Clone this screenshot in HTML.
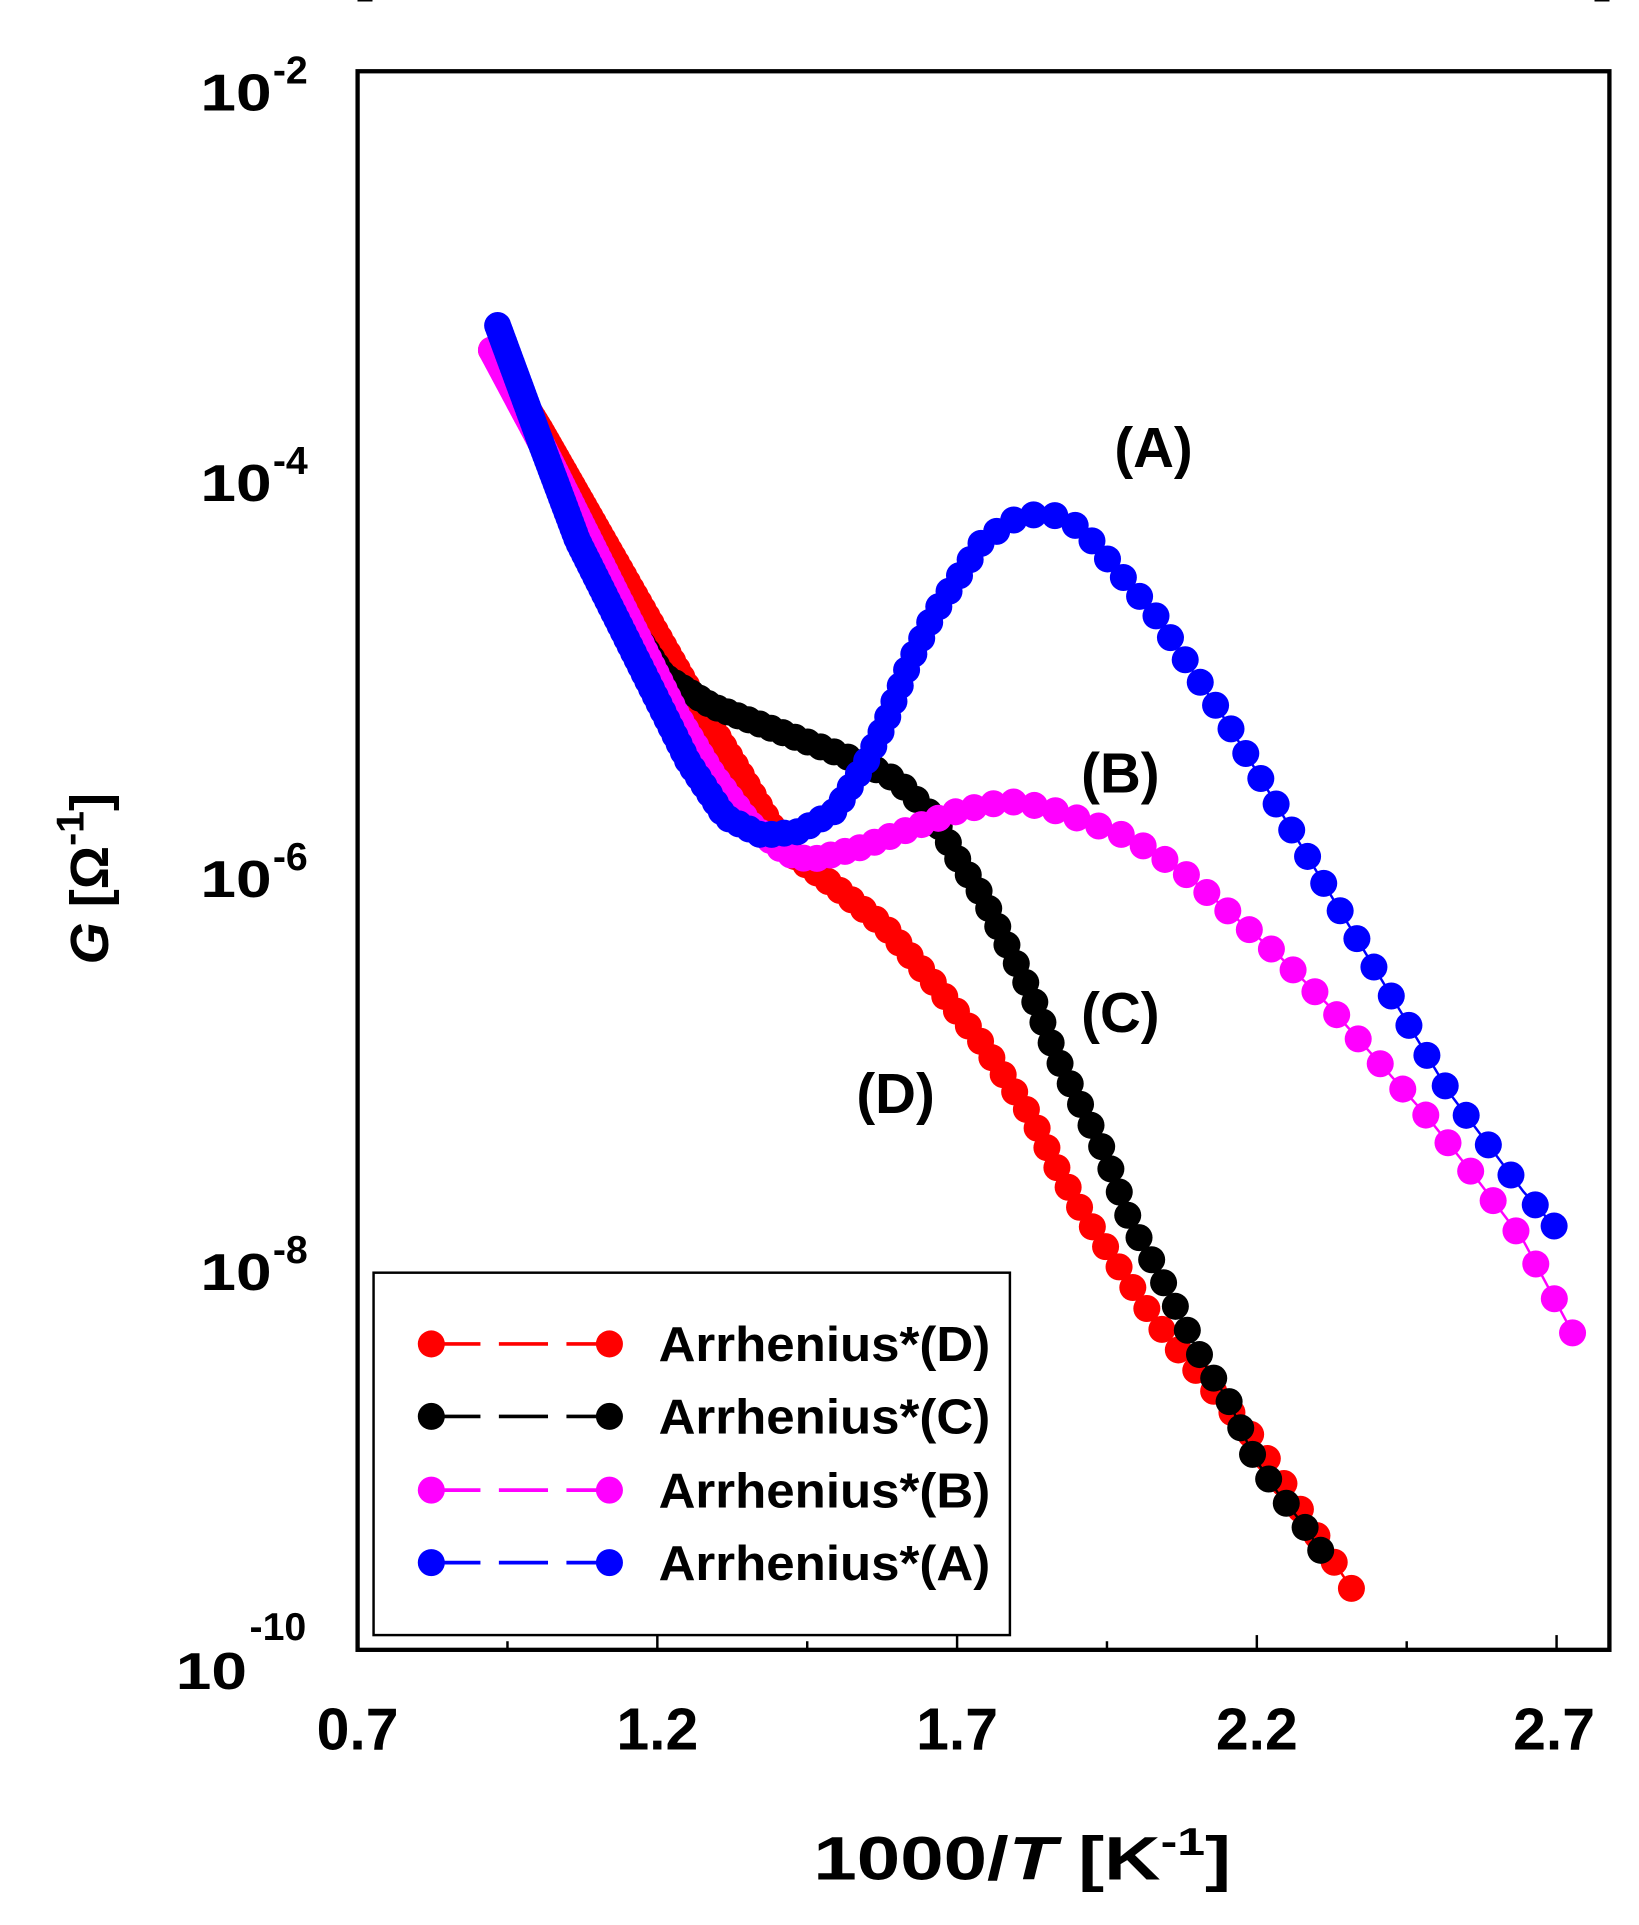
<!DOCTYPE html>
<html><head><meta charset="utf-8"><style>
html,body{margin:0;padding:0;background:#fff;}
svg{display:block;}
text{font-family:"Liberation Sans",sans-serif;font-weight:bold;fill:#000;}
</style></head><body>
<svg id="s" width="1639" height="1925" viewBox="0 0 1334 1567" xmlns="http://www.w3.org/2000/svg">
<rect x="0" y="0" width="1334" height="1567" fill="#fff"/>
<g id="ticks" stroke="#000" stroke-width="2"></g>
<g id="data"></g>
<rect x="291" y="58" width="1019" height="1285" fill="none" stroke="#000" stroke-width="3.5"/>
<rect x="304" y="1036" width="518" height="295" fill="#fff" stroke="#000" stroke-width="2"/>
<g id="leg"></g>
<g font-size="42">
<text x="163" y="90" textLength="58" lengthAdjust="spacingAndGlyphs">10</text><text x="222" y="68" font-size="32">-2</text>
<text x="163" y="408" textLength="58" lengthAdjust="spacingAndGlyphs">10</text><text x="222" y="386" font-size="32">-4</text>
<text x="163" y="730" textLength="58" lengthAdjust="spacingAndGlyphs">10</text><text x="222" y="708" font-size="32">-6</text>
<text x="163" y="1050" textLength="58" lengthAdjust="spacingAndGlyphs">10</text><text x="222" y="1028" font-size="32">-8</text>
<text x="143" y="1375" textLength="58" lengthAdjust="spacingAndGlyphs">10</text><text x="203" y="1335" font-size="32">-10</text>
</g>
<g font-size="48">
<text x="291" y="1424" text-anchor="middle">0.7</text>
<text x="535" y="1424" text-anchor="middle">1.2</text>
<text x="779" y="1424" text-anchor="middle">1.7</text>
<text x="1023" y="1424" text-anchor="middle">2.2</text>
<text x="1265" y="1424" text-anchor="middle">2.7</text>
</g>
<text x="662" y="1530" font-size="50" textLength="340" lengthAdjust="spacingAndGlyphs">1000/<tspan font-style="italic">T</tspan> [K<tspan font-size="32" dy="-20">-1</tspan><tspan dy="20">]</tspan></text>
<g transform="translate(88,785) rotate(-90)">
<text x="0" y="0" font-size="44"><tspan font-style="italic">G</tspan> [Ω<tspan font-size="32" dy="-20">-1</tspan><tspan dy="20">]</tspan></text>
</g>
<g font-size="46">
<text x="907" y="380">(A)</text>
<text x="880" y="645">(B)</text>
<text x="880" y="840">(C)</text>
<text x="697" y="906">(D)</text>
</g>
</svg>
<script>
var NS="http://www.w3.org/2000/svg";
function el(p,t,a){var e=document.createElementNS(NS,t);for(var k in a)e.setAttribute(k,a[k]);p.appendChild(e);return e;}
var tk=document.getElementById('ticks');
var top=58,bot=1343,L=291,R=1310,dec=321.25/2;
for(var d=0;d<8;d++){for(var m=1;m<10;m++){var y=top+(d+1)*dec-Math.log10(m)*dec;if(y>bot+1)continue;var len=m==1?12:7;
el(tk,'line',{x1:L,y1:y,x2:L+len,y2:y});el(tk,'line',{x1:R,y1:y,x2:R-len,y2:y});}}
for(var v=0.7;v<2.8;v+=0.25){var x=L+(v-0.7)*488;var len=Math.abs((v-0.7)/0.5-Math.round((v-0.7)/0.5))<0.01?12:7;
el(tk,'line',{x1:x,y1:bot,x2:x,y2:bot-len});el(tk,'line',{x1:x,y1:top,x2:x,y2:top+len});}
var S={
D:{c:'#ff0000',p:[[400,285],[440,350],[480,420],[520,490],[560,560],[600,625],[640,692],[680,722],[720,754],[760,800],[800,850],[840,910],[860,950],[880,985],[900,1015],[920,1045],[940,1075],[960,1100],[990,1135],[1020,1170],[1050,1215],[1075,1255],[1100,1293]]},
C:{c:'#000000',p:[[405,285],[440,360],[470,430],[500,490],[540,550],[580,575],[620,590],[660,605],[700,620],[730,635],[760,665],[780,700],[800,730],[820,770],[840,810],[860,860],[880,900],[900,940],[920,995],[940,1030],[960,1070],[980,1110],[1000,1140],[1020,1185],[1040,1215],[1060,1240],[1075,1262]]},
B:{c:'#ff00ff',p:[[400,285],[440,360],[480,440],[520,520],[550,580],[580,630],[610,670],[640,695],[660,700],[700,690],[740,675],[780,660],[820,652],[850,657],[880,667],[920,682],[960,707],[1000,742],[1040,777],[1080,817],[1120,862],[1160,907],[1200,957],[1240,1010],[1280,1085]]},
A:{c:'#0000ff',p:[[405,265],[440,360],[470,440],[500,500],[530,560],[560,620],[590,665],[620,680],[650,677],[680,660],[705,620],[720,590],[740,540],[760,500],[780,470],[800,440],[830,420],[855,418],[880,430],[910,465],[940,500],[970,545],[1000,590],[1030,640],[1060,690],[1090,740],[1120,790],[1150,840],[1180,890],[1210,930],[1240,970],[1265,998]]}};
var dg=document.getElementById('data');
['D','C','B','A'].forEach(function(k){var s=S[k],p=s.p;
el(dg,'polyline',{points:p.map(function(q){return q.join(',')}).join(' '),fill:'none',stroke:s.c,'stroke-width':2});
var acc=0,next=0;
for(var i=0;i<p.length-1;i++){var a=p[i],b=p[i+1],dx=b[0]-a[0],dy=b[1]-a[1],l=Math.hypot(dx,dy);
while(acc+l>=next){var f=(next-acc)/l;var x=a[0]+dx*f,y=a[1]+dy*f;el(dg,'circle',{cx:x,cy:y,r:11,fill:s.c});
var step=3+Math.max(0,(x-420))*0.035;next+=step;}
acc+=l;}
var e=p[p.length-1];el(dg,'circle',{cx:e[0],cy:e[1],r:11,fill:s.c});
});
var lg=document.getElementById('leg');
[['D','#ff0000',1094],['C','#000000',1153],['B','#ff00ff',1213],['A','#0000ff',1272]].forEach(function(r){
el(lg,'line',{x1:351,y1:r[2],x2:496,y2:r[2],stroke:r[1],'stroke-width':3,'stroke-dasharray':'40,15'});
el(lg,'circle',{cx:351,cy:r[2],r:11,fill:r[1]});el(lg,'circle',{cx:496,cy:r[2],r:11,fill:r[1]});
var t=el(lg,'text',{x:536,y:r[2]+14,'font-size':40,textLength:270,lengthAdjust:'spacingAndGlyphs'});t.textContent='Arrhenius*('+r[0]+')';});
</script>
</body></html>
